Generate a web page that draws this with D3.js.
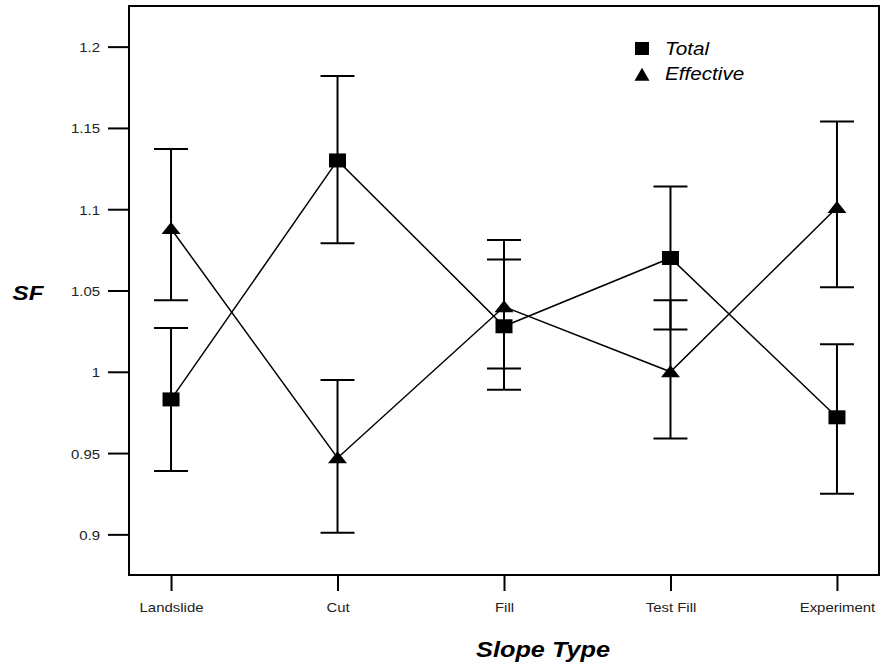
<!DOCTYPE html>
<html>
<head>
<meta charset="utf-8">
<script src="https://cdn.jsdelivr.net/npm/d3@7"></script>
<style>
  body { margin: 0; background: #fff; }
  svg { display: block; font-family: "Liberation Sans", Arial, sans-serif; }
</style>
</head>
<body>
<svg width="881" height="664"></svg>
<script>
const categories = ["Landslide", "Cut", "Fill", "Test Fill", "Experiment"];
const totalMean = [0.983, 1.130, 1.028, 1.070, 0.972];
const totalLow  = [0.939, 1.079, 0.989, 1.026, 0.925];
const totalHigh = [1.027, 1.182, 1.069, 1.114, 1.017];
const effMean = [1.088, 0.947, 1.040, 1.000, 1.101];
const effLow  = [1.044, 0.901, 1.002, 0.959, 1.052];
const effHigh = [1.137, 0.995, 1.081, 1.044, 1.154];
const yTicks = [0.9, 0.95, 1, 1.05, 1.1, 1.15, 1.2];

const svg = d3.select("svg");
const stretch = 1.15; // the original looks pulled sideways a bit

const plotL = 129, plotR = 879, plotT = 6, plotB = 575;

const x = d3.scalePoint().domain(categories).range([plotL, plotR]).padding(0.2525);
const y = d3.scaleLinear().domain([0.875, 1.225]).range([plotB, plotT]);

// helper: text with the horizontal stretch
function label(g, tx, ty, str, anchor) {
  return g.append("text")
    .attr("transform", `translate(${tx},${ty}) scale(${stretch},1)`)
    .attr("text-anchor", anchor || "start")
    .text(str);
}

// frame
svg.append("rect")
  .attr("x", plotL).attr("y", plotT)
  .attr("width", plotR - plotL).attr("height", plotB - plotT)
  .attr("fill", "none").attr("stroke", "#000").attr("stroke-width", 2);

// y axis
const yAxis = svg.append("g").attr("transform", `translate(${plotL},0)`)
  .call(d3.axisLeft(y).tickValues(yTicks).tickSize(21).tickFormat(d => String(+d.toFixed(2))));
yAxis.select(".domain").remove();
yAxis.selectAll(".tick line").attr("stroke-width", 2);
yAxis.selectAll(".tick text")
  .attr("x", null).attr("dy", null)
  .attr("transform", `translate(-29,5) scale(${stretch},1)`)
  .attr("font-size", 13).attr("font-family", "Liberation Sans, Arial, sans-serif")
  .attr("fill", "#222");

// x axis
const xAxis = svg.append("g").attr("transform", `translate(0,${plotB})`)
  .call(d3.axisBottom(x).tickSize(16));
xAxis.select(".domain").remove();
xAxis.selectAll(".tick line").attr("stroke-width", 2);
xAxis.selectAll(".tick text")
  .attr("y", null).attr("dy", null)
  .attr("transform", `translate(0,37) scale(${stretch},1)`)
  .attr("font-size", 13).attr("font-family", "Liberation Sans, Arial, sans-serif")
  .attr("fill", "#222");

// axis titles
label(svg, 28, 300, "SF", "middle")
  .attr("font-size", 21).attr("font-weight", "bold").attr("font-style", "italic");
label(svg, 543, 657, "Slope Type", "middle")
  .attr("font-size", 22).attr("font-weight", "bold").attr("font-style", "italic");

const series = [
  { name: "Total", mean: totalMean, low: totalLow, high: totalHigh, shape: "square" },
  { name: "Effective", mean: effMean, low: effLow, high: effHigh, shape: "triangle" }
];

const line = d3.line().x((d, i) => x(categories[i])).y(d => y(d));

const plot = svg.append("g");

// connecting lines
series.forEach(s => {
  plot.append("path")
    .attr("d", line(s.mean))
    .attr("fill", "none").attr("stroke", "#000").attr("stroke-width", 1.5);
});

// error bars
const capW = 17;
series.forEach(s => {
  const eb = plot.append("g").attr("stroke", "#000").attr("stroke-width", 2);
  categories.forEach((c, i) => {
    eb.append("line").attr("x1", x(c)).attr("x2", x(c)).attr("y1", y(s.low[i])).attr("y2", y(s.high[i]));
    eb.append("line").attr("x1", x(c) - capW).attr("x2", x(c) + capW).attr("y1", y(s.low[i])).attr("y2", y(s.low[i]));
    eb.append("line").attr("x1", x(c) - capW).attr("x2", x(c) + capW).attr("y1", y(s.high[i])).attr("y2", y(s.high[i]));
  });
});

function tri(cx, cy, w, h) {
  return `M${cx},${cy - h * 0.55} L${cx + w / 2},${cy + h * 0.45} L${cx - w / 2},${cy + h * 0.45} Z`;
}

// markers
series.forEach(s => {
  const g = plot.append("g");
  if (s.shape === "square") {
    g.selectAll("rect").data(s.mean).join("rect")
      .attr("x", (d, i) => x(categories[i]) - 8.5)
      .attr("y", d => y(d) - 7)
      .attr("width", 17).attr("height", 14)
      .attr("fill", "#000");
  } else {
    g.selectAll("path").data(s.mean).join("path")
      .attr("d", (d, i) => tri(x(categories[i]), y(d), 19, 12))
      .attr("fill", "#000");
  }
});

// legend
const legend = svg.append("g");
legend.append("rect").attr("x", 635).attr("y", 42).attr("width", 14).attr("height", 13).attr("fill", "#000");
legend.append("path").attr("d", tri(642, 75, 15, 13)).attr("fill", "#000");
label(legend, 665, 55, "Total").attr("font-size", 18).attr("font-style", "italic");
label(legend, 665, 80, "Effective").attr("font-size", 18).attr("font-style", "italic");
</script>
</body>
</html>
